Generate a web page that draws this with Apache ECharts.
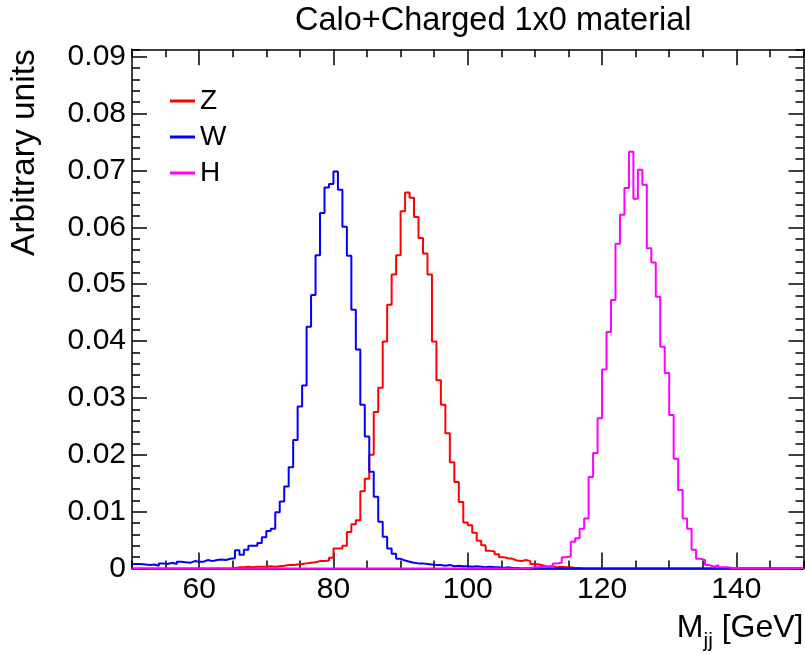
<!DOCTYPE html>
<html>
<head>
<meta charset="utf-8">
<script src="https://cdn.jsdelivr.net/npm/echarts@6/dist/echarts.min.js"></script>
<style>
html,body{margin:0;padding:0;background:#fff;}
#chart{width:805px;height:655px;}
</style>
</head>
<body>
<div id="chart"></div>
<script>
// ---------------- data ----------------
const TITLE = 'Calo+Charged 1x0 material';
const seriesNames = ['Z', 'W', 'H'];
const BIN_LOW = 50;          // first bin edge (GeV)
const BIN_WIDTH = 2 / 3;     // bin width (GeV)

// Z  (150 bins, 50 -> 150 GeV)
const zValues = [
  0,0,0,0,0,0,0,0,0,0,
  0,0,0,0,0,0,0,0,0,0,
  0,0,0.0001,0.0002,0.0002,0.0003,0.0002,0.0003,0.0003,0.0003,
  0.0004,0.0003,0.0004,0.0005,0.0006,0.0006,0.0007,0.0008,0.0009,0.0010,
  0.0011,0.0013,0.0013,0.0014,0.0019,0.0035,0.0035,0.0040,0.0064,0.0078,
  0.0085,0.0136,0.0158,0.0200,0.0275,0.0318,0.0399,0.0464,0.0517,0.0551,
  0.0628,0.0661,0.0652,0.0618,0.0581,0.0554,0.0517,0.0399,0.0331,0.0288,
  0.0238,0.0187,0.0152,0.0117,0.0081,0.0076,0.0063,0.0049,0.0041,0.0031,
  0.0030,0.0025,0.0020,0.0018,0.0017,0.0014,0.0013,0.0015,0.0013,0.0008,
  0.0007,0.0005,0.0003,0.0004,0.0002,0.0003,0.0002,0.0002,0.0001,0.0001,
  0,0,0,0,0,0,0,0,0,0,
  0,0,0,0,0,0,0,0,0,0,
  0,0,0,0,0,0,0,0,0,0,
  0,0,0,0,0,0,0,0,0,0,
  0,0,0,0,0,0,0,0,0,0
];

// W
const wValues = [
  0.0008,0.0008,0.0007,0.0006,0.0007,0.0005,0.0009,0.0008,0.0010,0.0008,
  0.0012,0.0011,0.0010,0.0013,0.0012,0.0012,0.0015,0.0013,0.0015,0.0016,
  0.0015,0.0017,0.0018,0.0032,0.0024,0.0033,0.0040,0.0040,0.0045,0.0055,
  0.0066,0.0070,0.0099,0.0118,0.0144,0.0178,0.0226,0.0285,0.0322,0.0425,
  0.0481,0.0551,0.0625,0.0670,0.0676,0.0698,0.0666,0.0601,0.0550,0.0455,
  0.0385,0.0288,0.0232,0.0170,0.0126,0.0082,0.0056,0.0035,0.0026,0.0017,
  0.0014,0.0012,0.0010,0.0009,0.0009,0.0008,0.0007,0.0006,0.0006,0.0005,
  0.0006,0.0004,0.0005,0.0004,0.0004,0.0003,0.0004,0.0003,0.0002,0.0003,
  0.0002,0.0002,0.0001,0.0002,0.0001,0.0001,0,0.0001,0,0,
  0,0,0,0,0,0,0,0,0,0,
  0,0,0,0,0,0,0,0,0,0,
  0,0,0,0,0,0,0,0,0,0,
  0,0,0,0,0,0,0,0,0,0,
  0,0,0,0,0,0,0,0,0,0,
  0,0,0,0,0,0,0,0,0,0
];

// H
const hValues = [
  0,0,0,0,0,0,0,0,0,0,
  0,0,0,0,0,0,0,0,0,0,
  0,0,0,0,0,0,0,0,0,0,
  0,0,0,0,0,0,0,0,0,0,
  0,0,0,0,0,0,0,0,0,0,
  0,0,0,0,0,0,0,0,0,0,
  0,0,0,0,0,0,0,0,0,0,
  0,0,0,0,0,0,0,0,0,0,
  0,0,0,0,0,0,0,0.0001,0.0001,0.0002,
  0.0002,0.0003,0.0003,0.0005,0.0009,0.0010,0.0020,0.0021,0.0047,0.0053,
  0.0070,0.0088,0.0161,0.0203,0.0264,0.0350,0.0416,0.0472,0.0571,0.0622,
  0.0669,0.0733,0.0650,0.0701,0.0675,0.0563,0.0538,0.0478,0.0390,0.0344,
  0.0270,0.0193,0.0138,0.0088,0.0070,0.0033,0.0017,0.0015,0.0006,0.0003,
  0.0006,0.0002,0.0002,0.0001,0.0001,0,0,0,0,0,
  0,0,0,0,0,0,0,0,0,0
];

const xMajorTicks = [60, 80, 100, 120, 140];
const yMajorTicks = [0, 0.01, 0.02, 0.03, 0.04, 0.05, 0.06, 0.07, 0.08, 0.09];
const X_MIN = 50, X_MAX = 150;
const Y_MIN = 0, Y_MAX = 0.0913;

// ---------------- chart ----------------
const FONT = '"Liberation Sans", Arial, Helvetica, sans-serif';
const colors = { Z: '#ff0000', W: '#0000ff', H: '#ff00ff' };

function toSteps(vals) {
  const pts = vals.map((v, i) => [BIN_LOW + i * BIN_WIDTH, v]);
  pts.push([BIN_LOW + vals.length * BIN_WIDTH, vals[vals.length - 1]]);
  return pts;
}

const tickStyle = { color: '#000', width: 1.5 };
const frameLine = { show: true, onZero: false, lineStyle: { color: '#000', width: 1.5 } };
const noLine = { show: false, onZero: false };

function minorX(pos) {
  return {
    type: 'value', position: pos, min: X_MIN, max: X_MAX, interval: 5,
    axisLine: frameLine,
    axisTick: { show: true, inside: true, length: 8, lineStyle: tickStyle },
    axisLabel: { show: false }, splitLine: { show: false }
  };
}
function majorX(pos, withLabels) {
  return {
    type: 'value', position: pos, min: X_MIN, max: X_MAX,
    axisLine: noLine,
    axisTick: { show: true, inside: true, length: 16, customValues: xMajorTicks, lineStyle: tickStyle },
    axisLabel: withLabels ? {
      show: true, customValues: xMajorTicks, margin: 6,
      fontSize: 30, color: '#000', fontFamily: FONT
    } : { show: false },
    splitLine: { show: false }
  };
}
function minorY(pos) {
  return {
    type: 'value', position: pos, min: Y_MIN, max: Y_MAX, interval: 0.002,
    axisLine: frameLine,
    axisTick: { show: true, inside: true, length: 8, lineStyle: tickStyle },
    axisLabel: { show: false }, splitLine: { show: false }
  };
}
function majorY(pos, withLabels) {
  return {
    type: 'value', position: pos, min: Y_MIN, max: Y_MAX,
    axisLine: noLine,
    axisTick: { show: true, inside: true, length: 15, customValues: yMajorTicks, lineStyle: tickStyle },
    axisLabel: withLabels ? {
      show: true, customValues: yMajorTicks, margin: 6,
      fontSize: 30, color: '#000', fontFamily: FONT,
      formatter: v => (v === 0 ? '0' : v.toFixed(2))
    } : { show: false },
    splitLine: { show: false }
  };
}

const xBottomMajor = majorX('bottom', true);
xBottomMajor.name = '{m|M}{s|jj}{m| [GeV]}';
xBottomMajor.nameLocation = 'end';
xBottomMajor.nameGap = 0;
xBottomMajor.nameMoveOverlap = false;
xBottomMajor.nameTextStyle = {
  align: 'right', verticalAlign: 'top', padding: [44, 0, 0, 0],
  rich: {
    m: { fontSize: 32, lineHeight: 32, verticalAlign: 'top', color: '#000', fontFamily: FONT },
    s: { fontSize: 21, lineHeight: 21, verticalAlign: 'top', padding: [18, 0, 0, 0], color: '#000', fontFamily: FONT }
  }
};

const yLeftMajor = majorY('left', true);
yLeftMajor.name = 'Arbitrary units';
yLeftMajor.nameLocation = 'end';
yLeftMajor.nameGap = 0;
yLeftMajor.nameRotate = 90;
yLeftMajor.nameMoveOverlap = false;
yLeftMajor.nameTextStyle = {
  align: 'right', verticalAlign: 'bottom', padding: [0, 0, 90, 0],
  fontSize: 33.5, color: '#000', fontFamily: FONT
};

const series = [
  { name: 'Z', values: zValues },
  { name: 'W', values: wValues },
  { name: 'H', values: hValues }
].map(s => ({
  type: 'line', name: s.name, xAxisIndex: 0, yAxisIndex: 0,
  data: toSteps(s.values), step: 'end', symbol: 'none', showSymbol: false,
  clip: true, silent: true,
  lineStyle: { color: colors[s.name], width: 2 },
  itemStyle: { color: colors[s.name] },
  emphasis: { disabled: true }
}));

const chart = echarts.init(document.getElementById('chart'), null, { renderer: 'canvas' });
chart.setOption({
  animation: false,
  backgroundColor: '#fff',
  textStyle: { fontFamily: FONT },
  title: {
    text: TITLE, left: 295, top: 5, padding: 0,
    textStyle: { fontFamily: FONT, fontSize: 32.5, lineHeight: 32.5, fontWeight: 'normal', color: '#000' }
  },
  grid: { left: 132, right: 1.5, top: 49.3, bottom: 86.5, containLabel: false, outerBoundsMode: 'none' },
  legend: {
    data: seriesNames, orient: 'vertical', left: 170, top: 86,
    icon: 'rect', itemWidth: 25, itemHeight: 3, itemGap: 6, padding: 0,
    selectedMode: false,
    textStyle: { fontSize: 28, lineHeight: 30, color: '#000', fontFamily: FONT }
  },
  xAxis: [minorX('bottom'), xBottomMajor, minorX('top'), majorX('top', false)],
  yAxis: [minorY('left'), yLeftMajor, minorY('right'), majorY('right', false)],
  series: series
});
</script>
</body>
</html>
